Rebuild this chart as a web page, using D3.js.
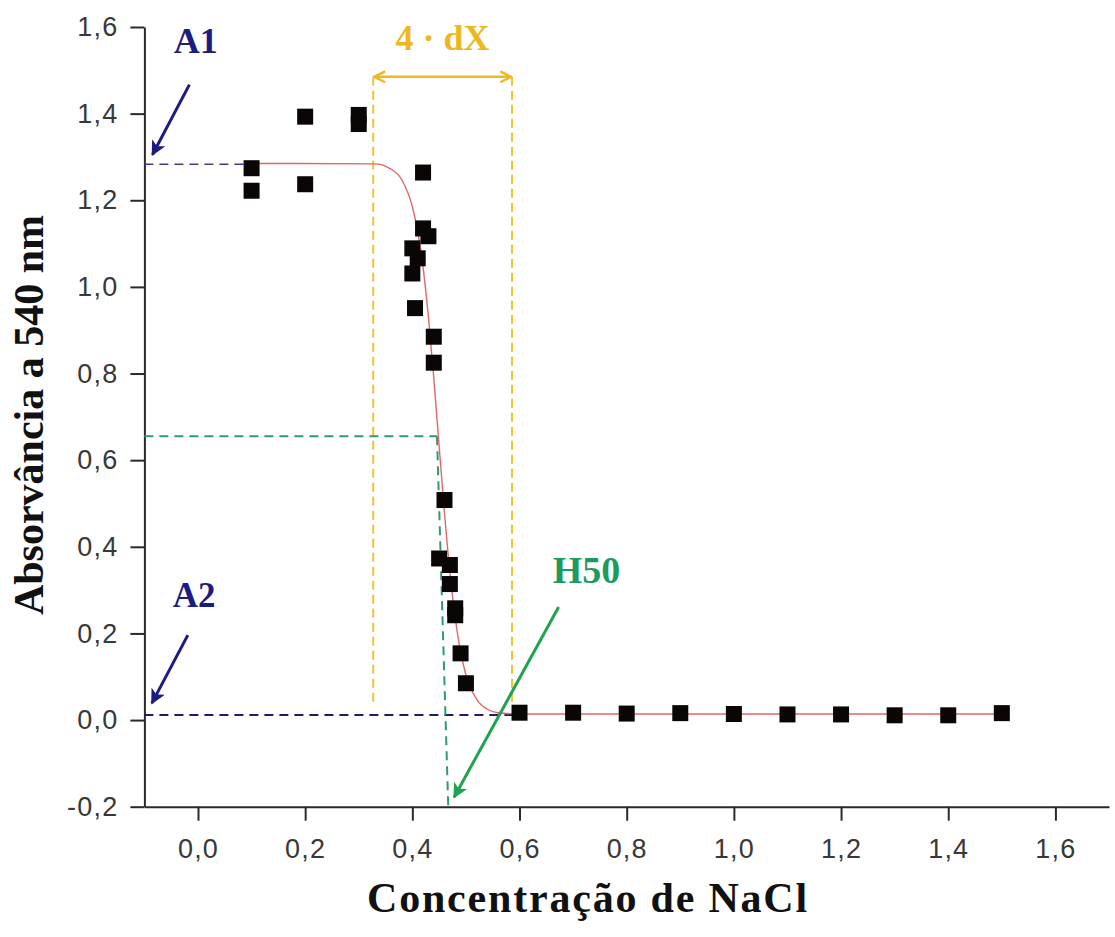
<!DOCTYPE html>
<html>
<head>
<meta charset="utf-8">
<script src="https://cdn.jsdelivr.net/npm/d3@7"></script>
<style>
  html, body { margin: 0; padding: 0; background: #ffffff; }
  svg { display: block; }
</style>
</head>
<body>
<script>
// ---------- DATA ----------
const concX = [0.10, 0.10, 0.20, 0.20, 0.30, 0.30, 0.40, 0.40, 0.41, 0.405, 0.42, 0.42, 0.43, 0.44, 0.44, 0.46, 0.45, 0.47, 0.47, 0.48, 0.48, 0.49, 0.50, 0.60, 0.70, 0.80, 0.90, 1.00, 1.10, 1.20, 1.30, 1.40, 1.50];
const absY  = [1.274, 1.222, 1.393, 1.237, 1.397, 1.376, 1.089, 1.031, 1.066, 0.951, 1.264, 1.135, 1.117, 0.885, 0.825, 0.508, 0.373, 0.358, 0.314, 0.258, 0.242, 0.154, 0.085, 0.017, 0.017, 0.015, 0.016, 0.014, 0.013, 0.013, 0.011, 0.011, 0.016];

// fitted (Boltzmann) curve
const fitX = [0.10, 0.33, 0.36, 0.38, 0.40, 0.41, 0.42, 0.43, 0.44, 0.45, 0.46, 0.47, 0.48, 0.49, 0.50, 0.52, 0.54, 0.56, 0.60, 1.50];
const fitY = [1.285, 1.284, 1.272, 1.248, 1.185, 1.128, 1.045, 0.930, 0.790, 0.632, 0.478, 0.342, 0.235, 0.158, 0.104, 0.048, 0.025, 0.017, 0.014, 0.014];

// fit parameters / annotation levels
const A1 = 1.283, A2 = 0.0115, H50y = 0.655;
const dXleft = 0.327, dXright = 0.586;

// axes ticks
const xMajor = [0.0, 0.2, 0.4, 0.6, 0.8, 1.0, 1.2, 1.4, 1.6];
const xMinor = [-0.1, 0.1, 0.3, 0.5, 0.7, 0.9, 1.1, 1.3, 1.5, 1.7];
const yMajor = [-0.2, 0.0, 0.2, 0.4, 0.6, 0.8, 1.0, 1.2, 1.4, 1.6];
const yMinor = [-0.1, 0.1, 0.3, 0.5, 0.7, 0.9, 1.1, 1.3, 1.5];

const xTitle = "Concentração de NaCl";
const yTitle = "Absorvância a 540 nm";

// ---------- LAYOUT ----------
const W = 1115, H = 937;
const svg = d3.select("body").append("svg").attr("width", W).attr("height", H);

const x = d3.scaleLinear().domain([-0.1, 1.7]).range([144.4, 1109]);
const y = d3.scaleLinear().domain([-0.2, 1.6]).range([806.7, 27]);

const fmt = d => d3.format(".1f")(d).replace(".", ",").replace("\u2212", "-");

const defs = svg.append("defs");
function arrowMarker(id, color) {
  defs.append("marker").attr("id", id)
    .attr("viewBox", "0 0 10 10").attr("refX", 9).attr("refY", 5)
    .attr("markerUnits", "userSpaceOnUse")
    .attr("markerWidth", 22).attr("markerHeight", 15)
    .attr("orient", "auto")
    .append("path").attr("d", "M0,0 L10,5 L0,10 L2.5,5 Z").attr("fill", color);
}
arrowMarker("arrNavy", "#1b1b82");
arrowMarker("arrGreen", "#1fa34f");
defs.append("marker").attr("id", "chev")
  .attr("viewBox", "0 0 12 12").attr("refX", 11).attr("refY", 6)
  .attr("markerUnits", "userSpaceOnUse")
  .attr("markerWidth", 13).attr("markerHeight", 13)
  .attr("orient", "auto-start-reverse")
  .append("path").attr("d", "M1,1 L11,6 L1,11").attr("fill", "none")
  .attr("stroke", "#efb722").attr("stroke-width", 2.2);

// ---------- AXES ----------
const axisColor = "#2a2a2a";
const tickFont = "'Liberation Sans', Arial, sans-serif";

const gx = svg.append("g").attr("transform", `translate(0,${y(-0.2)})`);
gx.call(d3.axisBottom(x).tickValues(xMinor).tickSize(7).tickSizeOuter(0).tickFormat(""));
gx.call(d3.axisBottom(x).tickValues(xMajor).tickSize(14).tickSizeOuter(0).tickPadding(18).tickFormat(fmt));

const gy = svg.append("g").attr("transform", `translate(${x(-0.1)},0)`);
gy.call(d3.axisLeft(y).tickValues(yMinor).tickSize(7).tickSizeOuter(0).tickFormat(""));
gy.call(d3.axisLeft(y).tickValues(yMajor).tickSize(14).tickSizeOuter(0).tickPadding(12).tickFormat(fmt));

svg.selectAll(".domain").attr("stroke", axisColor).attr("stroke-width", 2);
svg.selectAll(".tick line").attr("stroke", axisColor).attr("stroke-width", 2);
svg.selectAll(".tick text")
  .attr("font-family", tickFont).attr("font-size", 27)
  .attr("letter-spacing", 1.2)
  .attr("fill", "#383838");

// axis titles
svg.append("text")
  .attr("x", 588).attr("y", 912)
  .attr("text-anchor", "middle")
  .attr("font-family", "'Liberation Serif', 'Times New Roman', serif")
  .attr("font-weight", "bold").attr("font-size", 42)
  .attr("letter-spacing", 1.8)
  .attr("fill", "#111")
  .text(xTitle);

svg.append("text")
  .attr("transform", "translate(43,415) rotate(-90)")
  .attr("text-anchor", "middle")
  .attr("font-family", "'Liberation Serif', 'Times New Roman', serif")
  .attr("font-weight", "bold").attr("font-size", 42)
  .attr("fill", "#111")
  .text(yTitle);

// ---------- ANNOTATION LINES ----------
svg.append("line")
  .attr("x1", x(-0.1)).attr("x2", x(0.1))
  .attr("y1", y(A1)).attr("y2", y(A1))
  .attr("stroke", "#3b3b98").attr("stroke-width", 1.6)
  .attr("stroke-dasharray", "9,6");
svg.append("line")
  .attr("x1", x(-0.1)).attr("x2", x(0.59))
  .attr("y1", y(A2)).attr("y2", y(A2))
  .attr("stroke", "#1c1c6c").attr("stroke-width", 2)
  .attr("stroke-dasharray", "9,6");

[dXleft, dXright].forEach(v => {
  svg.append("line")
    .attr("x1", x(v)).attr("x2", x(v))
    .attr("y1", y(1.485)).attr("y2", y(0.03))
    .attr("stroke", "#f2c230").attr("stroke-width", 2)
    .attr("stroke-dasharray", "9,5");
});
svg.append("line")
  .attr("x1", x(dXleft) + 1).attr("x2", x(dXright) - 1)
  .attr("y1", y(1.485)).attr("y2", y(1.485))
  .attr("stroke", "#efb722").attr("stroke-width", 2.5)
  .attr("marker-start", "url(#chev)").attr("marker-end", "url(#chev)");
svg.append("text")
  .attr("x", x((dXleft + dXright) / 2)).attr("y", y(1.547))
  .attr("text-anchor", "middle")
  .attr("font-family", "'Liberation Serif', 'Times New Roman', serif")
  .attr("font-weight", "bold").attr("font-size", 36)
  .attr("fill", "#ecb81e")
  .text("4 \u00B7 dX");

svg.append("line")
  .attr("x1", x(-0.1)).attr("x2", x(0.446))
  .attr("y1", y(H50y)).attr("y2", y(H50y))
  .attr("stroke", "#2e9c6c").attr("stroke-width", 2)
  .attr("stroke-dasharray", "9,6");
svg.append("line")
  .attr("x1", x(0.446)).attr("x2", x(0.467))
  .attr("y1", y(H50y)).attr("y2", y(-0.2))
  .attr("stroke", "#2e9c6c").attr("stroke-width", 2)
  .attr("stroke-dasharray", "9,6");

// ---------- FIT CURVE ----------
const fitData = fitX.map((v, i) => [v, fitY[i]]);
svg.append("path")
  .datum(fitData)
  .attr("d", d3.line().x(d => x(d[0])).y(d => y(d[1])).curve(d3.curveMonotoneX))
  .attr("fill", "none")
  .attr("stroke", "#e0686a").attr("stroke-width", 1.4);

// ---------- DATA POINTS ----------
const pts = concX.map((v, i) => ({ x: v, y: absY[i] }));
const S = 16;
svg.append("g").selectAll("rect").data(pts).join("rect")
  .attr("x", d => x(d.x) - S / 2).attr("y", d => y(d.y) - S / 2)
  .attr("width", S).attr("height", S)
  .attr("fill", "#0b0606");

// ---------- ARROWS & LABELS ----------
const serif = "'Liberation Serif', 'Times New Roman', serif";
function arrow(x1, y1, x2, y2, color, marker) {
  svg.append("line")
    .attr("x1", x(x1)).attr("y1", y(y1)).attr("x2", x(x2)).attr("y2", y(y2))
    .attr("stroke", color).attr("stroke-width", 3)
    .attr("marker-end", `url(#${marker})`);
}
arrow(-0.016, 1.467, -0.085, 1.305, "#1b1b82", "arrNavy");
arrow(-0.019, 0.196, -0.086, 0.039, "#1b1b82", "arrNavy");
arrow(0.673, 0.261, 0.478, -0.178, "#1fa34f", "arrGreen");

function label(xv, yv, txt, color, size) {
  svg.append("text")
    .attr("x", x(xv)).attr("y", y(yv))
    .attr("font-family", serif).attr("font-weight", "bold")
    .attr("font-size", size).attr("fill", color)
    .text(txt);
}
label(-0.045, 1.540, "A1", "#1b1b82", 36);
label(-0.047, 0.261, "A2", "#1b1b82", 35);
label(0.662, 0.316, "H50", "#1f9a5f", 38);
</script>
</body>
</html>
